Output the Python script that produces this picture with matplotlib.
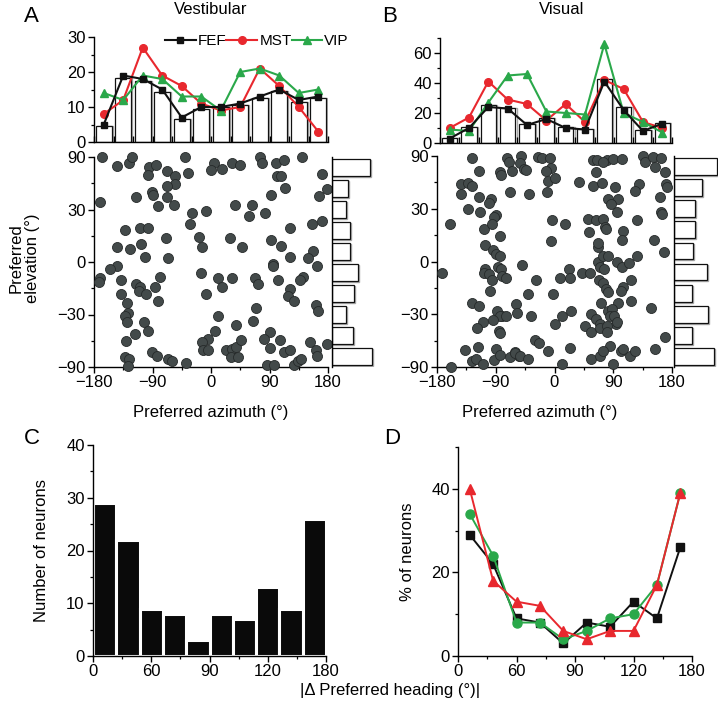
import numpy as np
import matplotlib
matplotlib.use('Agg')
import matplotlib.pyplot as plt
from matplotlib.transforms import ScaledTranslation
from matplotlib.lines import Line2D

plt.rcParams['font.family'] = ['Liberation Sans', 'DejaVu Sans']

# ---------------- data ----------------
az_centers = [-165, -135, -105, -75, -45, -15, 15, 45, 75, 105, 135, 165]

vest_bar = [4.7, 18.3, 17.5, 14.3, 6.7, 9.5, 10, 10.7, 12.5, 14.5, 11.5, 12.5]
vest_fef = [5, 19, 18, 15, 7, 10, 10, 11, 13, 15, 12, 13]
vest_mst = [8, 12, 27, 19, 16, 11, 9, 10, 21, 16, 10, 3]
vest_vip = [14, 12, 19, 18, 13, 13, 9, 20, 21, 19, 14, 15]

vis_bar = [3.5, 10.5, 25.5, 23.5, 12.5, 17, 10.5, 9.5, 43, 24, 9, 13.5]
vis_fef = [3, 10, 24, 23, 12, 16, 10, 9, 41, 22, 8, 13]
vis_mst = [10, 17, 41, 29, 26, 15, 26, 14, 42, 36, 14, 10]
vis_vip = [9, 8, 27, 45, 46, 21, 20, 19, 66, 20, 14, 7]

vest_azimuth = [-167, -145, -126, -121, -95, -84, -97, -68, -56, -56, -68, -68, -91, -90, -116,
                -82, -57, -171, -133, -109, -97, -69, -108, -144, -124, -101, -66, -145, -156,
                -171, -173, -138, -78, -115, -109, -111, -100, -138, -86, -82, -129, -128, -132,
                -130, -103, -97, -117, -131, -91, -83, -132, -126, -128, -66, -60,
                -40, 4, 0, 17, 33, 45, -35, -30, -8, -33, 37, 63, 59, -18, -14, 29, 48, -15, 10,
                33, 17, -7, 68, 72, 10, 39, 64, 69, 6, -4, -14, -12, -5, 23, 32, 38, 46, 30, 41,
                -39, 75, 79, 100, 112, 140, 101, 108, 114, 92, 171, 166, 178, 83, 121, 155, 171,
                92, 107, 121, 157, 149, 163, 95, 96, 103, 141, 137, 122, 118, 127, 162, 165, 90,
                82, 106, 90, 112, 122, 152, 162, 163, 178, 86, 97, 127, 134, 138]
vest_elevation = [89, 66, 70, 89, 65, 68, 56, 60, 55, 48, 46, 38, 42, 40, 38,
                  32, 33, 35, 18, 19, 19, 13, 10, 8, 7, 3, 2, -2, -4,
                  -9, -11, -10, -8, -12, -14, -16, -18, -18, -14, -22, -23, -29, -31,
                  -35, -35, -41, -43, -49, -59, -63, -65, -68, -84, -67, -70,
                  89, 71, 61, 62, 71, 67, 58, 28, 29, 21, 33, 33, 26, 14, 8, 13, 8, -6, -9,
                  -9, -14, -18, -9, -12, -31, -37, -34, -26, -41, -47, -50, -57, -57, -57, -56, -54, -48, -65, -65,
                  -74, 89, 70, 70, 77, 89, 55, 55, 45, 40, 57, 39, 44, 28, 19, 21, 23,
                  12, 9, 3, 6, 2, -2, -1, -2, -10, -8, -10, -15, -19, -22, -24, -28, -42,
                  -47, -48, -55, -59, -57, -50, -57, -64, -51, -78, -78, -78, -70, -67]

vis_azimuth = [-127, -116, -143, -132, -127, -144, -115, -98, -100, -132, -114, -89, -92, -84, -82,
               -73, -69, -65, -68, -160, -108, -96, -83, -107, -94, -89, -84, -172, -107, -108,
               -101, -96, -87, -82, -80, -75, -99, -127, -115, -88, -80, -83, -75, -59, -58,
               -109, -118, -94, -85, -84, -137, -117, -127, -121, -158, -109, -90, -92, -83,
               -68, -61, -54, -51, -53, -46, -44, -26, -19, -7, -5, -13, -10, 0, -12, -39, 37,
               59, 65, 64, 59, 72, -4, 16, -5, 51, 64, 53, 66, -50, -28, 22, 9, 23, 42, 55, 66,
               70, 68, -40, -2, -36, 0, 11, 26, 56, 64, 46, 56, 70, 69, -30, -24, -10, 24, -60,
               -53, -41, 12, 56, 70, 80, 90, 103, 136, 139, 151, 163, 154, 169, 92, 130, 123,
               171, 173, 82, 98, 86, 95, 162, 163, 164, 75, 77, 79, 127, 105, 104, 153, 67, 168,
               75, 82, 76, 95, 103, 114, 126, 75, 79, 82, 105, 102, 117, 71, 97, 117, 148, 82,
               88, 85, 91, 94, 96, 81, 80, 170, 85, 75, 102, 105, 115, 123, 154, 90, 74]
vis_elevation = [79, 59, 47, 48, 46, 40, 38, 36, 34, 30, 28, 26, 25, 58, 55,
                 79, 71, 59, 41, 21, 18, 21, 14, 9, 6, 4, 3, -6, -4, -6,
                 -7, -10, -3, -4, -8, -9, -16, -23, -25, -28, -31, -31, -31, -24, -29,
                 -35, -39, -34, -41, -43, -57, -54, -70, -67, -86, -77, -56, -69, -62,
                 -65, -59, -64, 86, 69, 61, 60, 82, 79, 79, 62, 59, 50, 52, 41, 40, 49,
                 74, 74, 58, 46, 48, 23, 21, 11, 24, 23, 16, 8, -2, -10, -4, -9, -9, -6, -6, 0,
                 -3, -10, -18, -18, -31, -36, -31, -28, -30, -33, -38, -42, -36, -39, -48, -51, -58, -55, -60,
                 -64, -68, -76, -68, -64, 75, 76, 76, 86, 71, 82, 79, 64, 58, 45, 47, 42,
                 47, 45, 36, 36, 33, 28, 38, 28, 27, 24, 19, 18, 23, 17, 12, 12, 10, 5,
                 3, 3, -4, 0, -3, -1, 3, -12, -15, -17, -14, -16, -10, -23, -23, -22, -26, -28,
                 -27, -31, -31, -36, -35, -38, -42, -46, -53, -58, -58, -56, -64, -58, -56, -77, 70]

heading_counts = [29, 22, 9, 8, 3, 8, 7, 13, 9, 26]
pct_black = [29, 22, 9, 8, 3, 8, 7, 13, 9, 26]
pct_green = [34, 24, 8, 8, 4, 6, 9, 10, 17, 39]
pct_red = [40, 18, 13, 12, 6, 4, 6, 6, 17, 39]

az_ticks = [-180, -90, 0, 90, 180]
elev_ticks = [-90, -30, 0, 30, 90]
heading_ticks = [0, 60, 90, 120, 180]

# ---------------- styling ----------------
W, H = 718, 707
fig = plt.figure(figsize=(W / 100, H / 100), dpi=100)

BLACK = '#111111'
RED = '#e8282e'
GREEN = '#2aa84a'
DOT = '#434a4a'
FS = 12


def rect(l, t, r, b):
    return [l / W, 1 - b / H, (r - l) / W, (b - t) / H]


def sin_fwd(e):
    return np.sin(np.deg2rad(e))


def sin_inv(s):
    return np.rad2deg(np.arcsin(np.clip(s, -1, 1)))


def cos_fwd(h):
    return -np.cos(np.deg2rad(h))


def cos_inv(c):
    return np.rad2deg(np.arccos(np.clip(-c, -1, 1)))


def style(ax):
    for s in ['top', 'right']:
        ax.spines[s].set_visible(False)
    for s in ['left', 'bottom']:
        ax.spines[s].set_linewidth(1.0)
    ax.tick_params(which='major', direction='out', length=4, width=1.0, labelsize=FS, pad=2)
    ax.tick_params(which='minor', direction='out', length=2.5, width=0.9)


def shadow_bars(ax, horiz, pos, vals, size, dx, dy):
    off = ax.transData + ScaledTranslation(dx / 100, dy / 100, fig.dpi_scale_trans)
    if horiz:
        ax.barh(pos, vals, height=size, color='none', edgecolor='#a8a8a8', linewidth=1.0,
                transform=off, zorder=1)
        ax.barh(pos, vals, height=size, color='white', edgecolor=BLACK, linewidth=0.9, zorder=2)
    else:
        ax.bar(pos, vals, width=size, color='none', edgecolor='#a8a8a8', linewidth=1.0,
               transform=off, zorder=1)
        ax.bar(pos, vals, width=size, color='white', edgecolor=BLACK, linewidth=0.9, zorder=2)


def top_hist(ax, bars, fef, mst, vip, ymax, yticks, yminor):
    style(ax)
    shadow_bars(ax, False, az_centers, bars, 24, 1.4, 0)
    ax.plot(az_centers, mst, '-o', color=RED, ms=5.5, lw=1.5, zorder=3, label='MST')
    ax.plot(az_centers, vip, '-^', color=GREEN, ms=6, lw=1.5, zorder=4, label='VIP')
    ax.plot(az_centers, fef, '-s', color=BLACK, ms=4.5, lw=1.5, zorder=5, label='FEF')
    ax.set_xlim(-180, 180)
    ax.set_ylim(0, ymax)
    ax.set_yticks(yticks)
    ax.set_yticks(yminor, minor=True)
    ax.set_xticks(np.arange(-180, 181, 30))
    ax.tick_params(axis='x', which='major', direction='in', length=4, labelbottom=False)


def scatter_panel(ax, az, el):
    style(ax)
    ax.set_yscale('function', functions=(sin_fwd, sin_inv))
    ax.scatter(az, el, s=52, facecolor=DOT, edgecolor='#262a2a', linewidths=0.6,
               clip_on=False, zorder=3)
    ax.set_xlim(-180, 180)
    ax.set_ylim(-90, 90)
    ax.set_xticks(az_ticks, labels=[str(v).replace('-', '\u2212') for v in az_ticks])
    ax.set_xticks([-135, -45, 45, 135], minor=True)
    ax.set_yticks(elev_ticks, labels=[str(v).replace('-', '\u2212') for v in elev_ticks])
    ax.set_yticks(sin_inv(np.array([-0.75, -0.25, 0.25, 0.75])), minor=True)


def side_hist(ax, el, xmax):
    counts, edges = np.histogram(sin_fwd(np.array(el)), bins=np.linspace(-1, 1, 11))
    centers = (edges[:-1] + edges[1:]) / 2
    shadow_bars(ax, True, centers, counts, 0.16, 1.0, -1.0)
    ax.set_ylim(-1, 1)
    ax.set_xlim(0, xmax)
    for s in ['top', 'right', 'bottom']:
        ax.spines[s].set_visible(False)
    ax.spines['left'].set_linewidth(1.0)
    ax.set_xticks([])
    ax.set_yticks([])


# ---------------- Panel A ----------------
axA_top = fig.add_axes(rect(94, 37, 328, 142))
top_hist(axA_top, vest_bar, vest_fef, vest_mst, vest_vip, 30, [0, 10, 20, 30], [5, 15, 25])
handles = [Line2D([], [], color=BLACK, marker='s', ms=4.5, lw=1.5),
           Line2D([], [], color=RED, marker='o', ms=5.5, lw=1.5),
           Line2D([], [], color=GREEN, marker='^', ms=6, lw=1.5)]
axA_top.legend(handles, ['FEF', 'MST', 'VIP'], ncol=3, loc='center left',
               bbox_to_anchor=(165 / W, 1 - 41 / H), bbox_transform=fig.transFigure,
               frameon=False, handlelength=2.0, handletextpad=0.15, columnspacing=0.0,
               borderpad=0, borderaxespad=0, fontsize=11)

axA = fig.add_axes(rect(94, 157, 328, 367))
scatter_panel(axA, vest_azimuth, vest_elevation)
axA_side = fig.add_axes(rect(332, 157, 378, 367))
side_hist(axA_side, vest_elevation, 46 / 1.6)

# ---------------- Panel B ----------------
axB_top = fig.add_axes(rect(440, 38, 672, 143))
top_hist(axB_top, vis_bar, vis_fef, vis_mst, vis_vip, 70, [0, 20, 40, 60], [10, 30, 50, 70])

axB = fig.add_axes(rect(437, 156, 672, 367))
scatter_panel(axB, vis_azimuth, vis_elevation)
axB_side = fig.add_axes(rect(674, 156, 718, 367))
side_hist(axB_side, vis_elevation, 44 / 1.49)

# ---------------- Panel C ----------------
edges = cos_inv(np.linspace(-1, 1, 11))
axC = fig.add_axes(rect(93, 445, 326, 656))
style(axC)
axC.set_xscale('function', functions=(cos_fwd, cos_inv))
axC.bar(edges[:-1], heading_counts, width=np.diff(edges), align='edge',
        color='#0a0a0a', edgecolor='white', linewidth=2.2, zorder=2)
axC.set_xlim(0, 180)
axC.set_ylim(0, 40)
axC.set_yticks([0, 10, 20, 30, 40])
axC.set_yticks([5, 15, 25, 35], minor=True)
axC.set_xticks(heading_ticks, labels=[str(v) for v in heading_ticks])
axC.set_xticks(cos_inv(np.array([-0.75, -0.25, 0.25, 0.75])), minor=True)

# ---------------- Panel D ----------------
centers_h = cos_inv(np.linspace(-0.9, 0.9, 10))
axD = fig.add_axes(rect(458, 447, 692, 656))
style(axD)
axD.set_xscale('function', functions=(cos_fwd, cos_inv))
axD.plot(centers_h, pct_black, '-s', color=BLACK, ms=6, lw=1.4, zorder=3, clip_on=False)
axD.plot(centers_h, pct_green, '-o', color=GREEN, ms=6.5, lw=1.4, zorder=4, clip_on=False)
axD.plot(centers_h, pct_red, '-^', color=RED, ms=7, lw=1.4, zorder=5, clip_on=False)
axD.set_xlim(0, 180)
axD.set_ylim(0, 50)
axD.set_yticks([0, 20, 40])
axD.set_yticks([10, 30, 50], minor=True)
axD.set_xticks(heading_ticks, labels=[str(v) for v in heading_ticks])
axD.set_xticks(cos_inv(np.array([-0.75, -0.25, 0.25, 0.75])), minor=True)

# ---------------- texts ----------------
def ftext(x, y, s, **kw):
    fig.text(x / W, 1 - y / H, s, **kw)


ftext(24, 16, 'A', fontsize=16, va='center', ha='left')
ftext(382, 16, 'B', fontsize=16, va='center', ha='left')
ftext(24, 439, 'C', fontsize=16, va='center', ha='left')
ftext(384, 438, 'D', fontsize=16, va='center', ha='left')
ftext(211, 10, 'Vestibular', fontsize=FS, ha='center', va='center')
ftext(562, 10, 'Visual', fontsize=FS, ha='center', va='center')
ftext(211, 413, 'Preferred azimuth (°)', fontsize=FS, ha='center', va='center')
ftext(540, 413, 'Preferred azimuth (°)', fontsize=FS, ha='center', va='center')
ftext(24, 258, 'Preferred\nelevation (°)', fontsize=FS, ha='center', va='center',
      rotation=90, linespacing=1.1)
ftext(42, 550, 'Number of neurons', fontsize=FS, ha='center', va='center', rotation=90)
ftext(408, 552, '% of neurons', fontsize=FS, ha='center', va='center', rotation=90)
ftext(390, 691, '|\u0394 Preferred heading (°)|', fontsize=FS, ha='center', va='center')

fig.savefig('out.png', dpi=100, facecolor='white')
